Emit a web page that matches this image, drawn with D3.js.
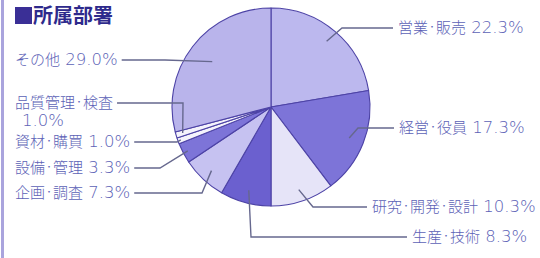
<!DOCTYPE html>
<html>
<head>
<meta charset="utf-8">
<script src="https://cdn.jsdelivr.net/npm/d3@7"></script>
<style>
  html, body { margin: 0; padding: 0; background: #ffffff; }
  svg { display: block; }
  .lbl { font-family: "Noto Sans CJK JP", sans-serif; font-size: 15px; font-weight: 300; fill: #5c62b6; }
  .num { font-family: "DejaVu Sans", sans-serif; font-size: 16.5px; font-weight: 200; }
  .dot { font-size: 8px; font-weight: 400; baseline-shift: 2.6px; }
</style>
</head>
<body>
<div id="chart"></div>
<script>
const departments = ["営業・販売", "経営・役員", "研究・開発・設計", "生産・技術", "企画・調査", "設備・管理", "資材・購買", "品質管理・検査", "その他"];
const shares = [22.3, 17.3, 10.3, 8.3, 7.3, 3.3, 1.0, 1.0, 29.0];
const sliceColors = ["#bcb8ee", "#7d74d8", "#e6e4f8", "#6b60cf", "#c6c2f1", "#7d74d8", "#f4f3fc", "#f4f3fc", "#b9b4eb"];

// label layout: side, text position, elbow point, radius factor for inner end
const labelLayout = [
    { side: "right", tx: 398, ty: 28, ex: 342, ey: 28, k: 0.87 },
    { side: "right", tx: 399, ty: 128, ex: 358, ey: 128, k: 0.85 },
    { side: "right", tx: 372, ty: 207, ex: 313, ey: 207, k: 0.88 },
    { side: "right", tx: 412, ty: 237, ex: 251, ey: 237, k: 0.87 },
    { side: "left", tx: 15, ty: 193, ex: 202, ey: 193, k: 0.88 },
    { side: "left", tx: 15, ty: 168, ex: 160, ey: 168, k: 0.95 },
    { side: "left", tx: 15, ty: 142, ex: 177, ey: 142, k: 0.97 },
    { side: "left", tx: 15, ty: 103, ex: 183, ey: 103, k: 0.93, wrap: true },
    { side: "left", tx: 15, ty: 60, ex: 165, ey: 60, k: 0.75 }
];

const width = 540, height = 258;
const cx = 271, cy = 107, radius = 99;

const svg = d3.select("#chart")
    .append("svg")
    .attr("width", width)
    .attr("height", height);

// left border
svg.append("rect")
    .attr("x", 1).attr("y", 0)
    .attr("width", 3).attr("height", height)
    .style("fill", "#aaa4dd");

// title
svg.append("rect")
    .attr("x", 15).attr("y", 7)
    .attr("width", 17).attr("height", 17)
    .style("fill", "#3a2f96");
svg.append("text")
    .attr("x", 33).attr("y", 23)
    .style("font-family", "Noto Sans CJK JP")
    .style("font-weight", "bold")
    .style("font-size", "20px")
    .style("fill", "#2e2a8c")
    .text("所属部署");

const pie = d3.pie().sort(null).value(d => d);
const arcs = pie(shares);
const arc = d3.arc().innerRadius(0).outerRadius(radius);

const g = svg.append("g").attr("transform", "translate(" + cx + "," + cy + ")");

g.selectAll("path")
    .data(arcs)
    .enter()
    .append("path")
    .attr("d", arc)
    .style("fill", (d, i) => sliceColors[i])
    .style("stroke", "#4d43a6")
    .style("stroke-width", 1.1)
    .style("stroke-linejoin", "round");

// write department name with small middle dots
const writeName = (text, name) => {
    name.split("・").forEach((part, j) => {
        if (j > 0) {
            text.append("tspan").attr("class", "dot").text("・");
        }
        text.append("tspan").text(part);
    });
};

// labels and leader lines
arcs.forEach((a, i) => {
    const L = labelLayout[i];
    const mid = (a.startAngle + a.endAngle) / 2;
    const r = radius * L.k;
    const px = cx + Math.sin(mid) * r;
    const py = cy - Math.cos(mid) * r;

    const text = svg.append("text")
        .attr("class", "lbl")
        .attr("x", L.tx)
        .attr("y", L.ty)
        .attr("dy", "0.36em");
    writeName(text, departments[i]);
    if (L.wrap) {
        svg.append("text")
            .attr("class", "lbl num")
            .attr("x", L.tx + 7)
            .attr("y", L.ty + 17)
            .attr("dy", "0.36em")
            .text(shares[i].toFixed(1) + "%");
    } else {
        text.append("tspan").attr("class", "num").text(" " + shares[i].toFixed(1) + "%");
    }

    let endX;
    if (L.side === "right") {
        endX = L.tx - 5;
    } else {
        const bb = text.node().getBBox();
        endX = bb.x + bb.width + 4;
    }

    svg.append("polyline")
        .attr("points", [[px, py], [L.ex, L.ey], [endX, L.ty]].map(p => p.join(",")).join(" "))
        .style("fill", "none")
        .style("stroke", "#66688e")
        .style("stroke-width", 1.4);
});
</script>
</body>
</html>
